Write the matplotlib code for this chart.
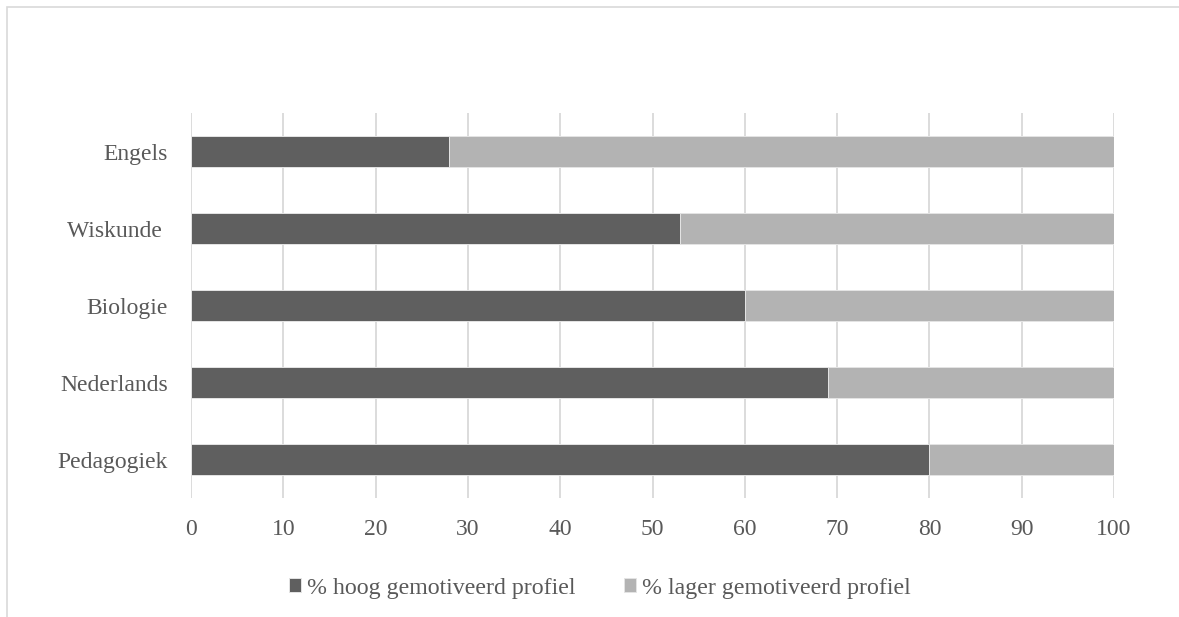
import matplotlib
matplotlib.use("Agg")
import matplotlib.pyplot as plt
from matplotlib.patches import Rectangle

# data (top to bottom as shown)
vakken = ["Engels", "Wiskunde ", "Biologie", "Nederlands", "Pedagogiek"]
hoog = [28, 53, 60, 69, 80]
lager = [72, 47, 40, 31, 20]
xticks = [0, 10, 20, 30, 40, 50, 60, 70, 80, 90, 100]
legend_labels = ["% hoog gemotiveerd profiel", "% lager gemotiveerd profiel"]

dark = "#5f5f5f"
light = "#b3b3b3"
textc = "#595959"
gridc = "#d9d9d9"

plt.rcParams["font.family"] = ["Liberation Serif", "DejaVu Serif"]

W, H = 1179, 617
fig = plt.figure(figsize=(W / 100, H / 100), dpi=100)
ax = fig.add_axes([191 / W, (H - 498) / H, (1114 - 191) / W, (498 - 113) / H])

ypos = list(range(len(vakken)))
b1 = ax.barh(ypos, hoog, height=0.4, color=dark, edgecolor="#e4e4e4", linewidth=0.7, zorder=3)
b2 = ax.barh(ypos, lager, left=hoog, height=0.4, color=light, edgecolor="#e4e4e4", linewidth=0.7, zorder=3)

ax.set_xlim(0, 100)
ax.set_ylim(len(vakken) - 0.5, -0.5)
ax.set_yticks(ypos)
ax.set_yticklabels(vakken)
ax.set_xticks(xticks)
ax.tick_params(axis="both", length=0, labelsize=17, colors=textc)
ax.tick_params(axis="x", pad=15)
ax.tick_params(axis="y", pad=16.5)
ax.grid(axis="x", color=gridc, linewidth=1.3, zorder=0)
for s in ax.spines.values():
    s.set_visible(False)

fig.legend([b1, b2], legend_labels, loc="center", bbox_to_anchor=(0.509, 0.047),
           ncol=2, frameon=False, fontsize=17.2, labelcolor=textc,
           handlelength=0.5, handleheight=0.5, handletextpad=0.25, columnspacing=2.05)

border = Rectangle((7 / W, -0.1), 1.2, 1 - 7 / H + 0.1, fill=False,
                   edgecolor=gridc, linewidth=1.2, transform=fig.transFigure)
fig.patches.append(border)

fig.savefig("out.png", dpi=100)
